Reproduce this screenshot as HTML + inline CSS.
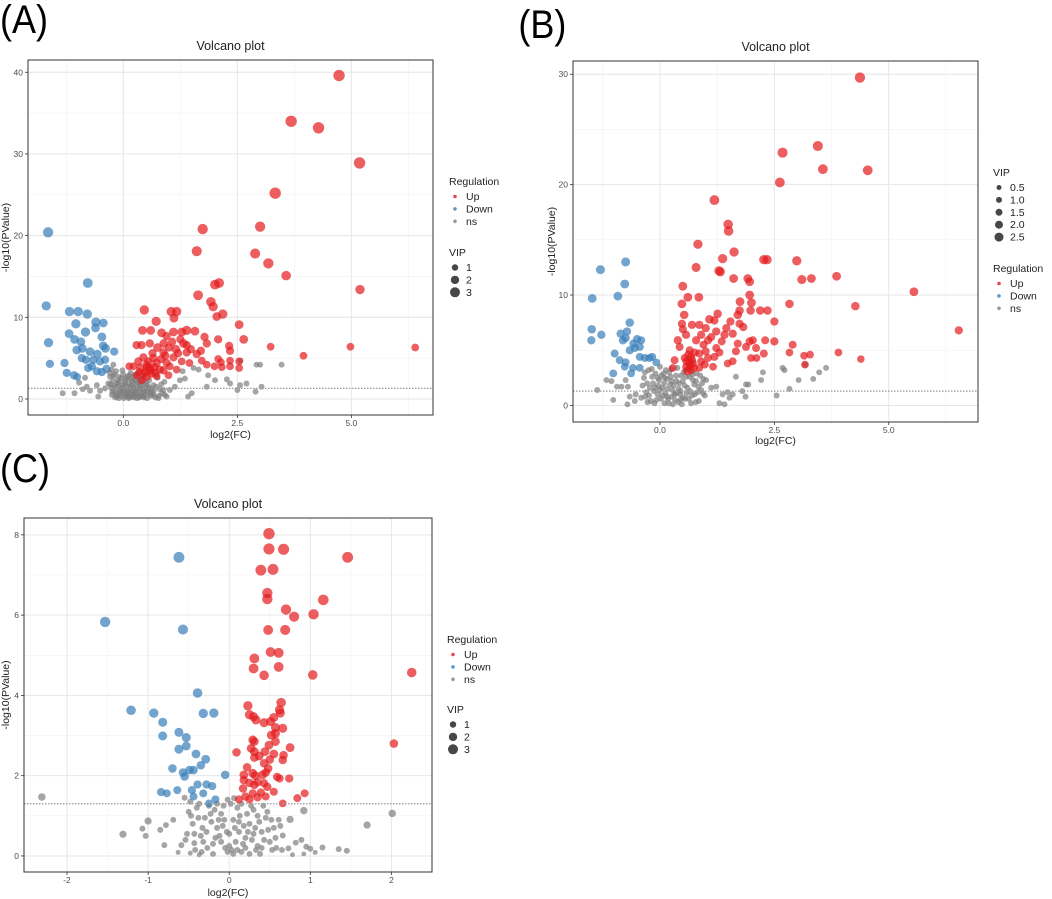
<!DOCTYPE html>
<html><head><meta charset="utf-8">
<style>
body{margin:0;background:#fff;}
svg{display:block;font-family:"Liberation Sans",Arial,sans-serif;}
</style></head>
<body>
<svg id="fig" width="1052" height="899" viewBox="0 0 1052 899" xmlns="http://www.w3.org/2000/svg">
<text x="0" y="33" font-size="40" transform="scale(0.9,1)">(A)</text>
<text x="576" y="38" font-size="40" transform="scale(0.9,1)">(B)</text>
<text x="0" y="482" font-size="40" transform="scale(0.9,1)">(C)</text>
</svg>
<script>
// ---------- Panel A data ----------
const upA=[[4.73,39.6,3],[3.68,34.0,3],[4.28,33.2,3],[5.18,28.9,3],[3.33,25.2,3],[3.0,21.1,2.6],[1.74,20.8,2.6],[1.61,18.1,2.5],[2.89,17.8,2.5],[3.18,16.6,2.6],[3.57,15.1,2.3],[2.01,14.0,2.4],[2.1,14.2,2.4],[5.19,13.4,2.2],[1.64,12.7,2.4],[1.92,11.9,2.3],[1.97,11.3,2.2],[0.46,10.9,2.2],[1.05,10.7,2.2],[1.17,10.7,2.2],[2.18,10.4,2.2],[2.05,10.1,2],[1.11,9.9,2],[0.72,9.5,2.2],[2.54,9.1,2],[0.42,8.4,2],[0.6,8.4,2],[0.84,8.1,2],[1.1,8.2,2],[1.28,8.2,2],[1.39,8.4,2.2],[1.57,8.3,2],[1.78,7.6,1.8],[1.83,6.8,1.8],[2.08,7.3,1.8],[2.64,7.3,2],[0.29,6.6,1.8],[0.4,6.6,1.8],[0.58,6.8,1.8],[0.89,6.8,2],[1.07,7.0,1.8],[1.32,6.8,2],[1.39,6.6,1.8],[0.75,6.3,2],[1.15,6.1,2],[2.32,6.5,1.8],[2.34,5.9,1.8],[3.23,6.4,1.6],[4.98,6.4,1.6],[6.4,6.3,1.6],[3.95,5.3,1.6],[0.88,5.7,1.8],[1.39,5.7,1.8],[1.61,5.5,1.8],[0.44,5.1,1.8],[0.66,5.0,1.8],[1.1,5.1,1.8],[1.28,4.6,1.6],[1.72,4.7,1.6],[2.08,4.9,1.6],[2.14,4.5,1.6],[2.34,4.7,1.6],[2.54,4.6,1.6],[0.33,4.6,1.8],[0.51,4.2,1.8],[0.73,4.4,1.8],[0.95,4.4,1.8],[0.13,4.0,1.6],[0.22,4.0,1.6],[0.37,3.8,1.8],[0.58,3.8,1.8],[0.8,3.6,1.8],[1.02,4.0,1.6],[1.17,3.6,1.6],[1.45,4.4,1.6],[1.83,4.2,1.6],[2.0,4.0,1.6],[2.16,3.9,1.6],[2.34,4.0,1.6],[2.54,3.8,1.6],[0.44,3.1,1.8],[0.62,3.1,1.8],[0.88,3.5,1.8],[0.99,2.9,1.6],[0.29,2.9,1.6],[0.51,2.7,1.8],[0.73,2.8,1.6],[0.4,2.3,1.6],[0.6,3.5,1.8],[0.55,4.6,1.8],[0.48,3.3,1.8],[0.68,3.9,1.8],[0.7,3.2,1.8],[0.52,3.9,1.8],[0.35,3.3,1.6],[0.83,4.9,1.8],[0.92,5.3,1.8],[1.2,5.6,1.8],[1.48,6.1,1.8],[1.0,6.3,1.8],[0.64,5.6,1.8],[1.25,7.3,1.8],[0.95,7.7,1.8],[1.7,5.9,1.8]];
const downA=[[-1.65,20.4,2.6],[-0.78,14.2,2.4],[-1.69,11.4,2.2],[-1.18,10.7,2.2],[-0.99,10.7,2.2],[-0.79,10.4,2.2],[-1.04,9.2,2.2],[-0.6,9.4,2.2],[-0.44,9.3,2],[-0.83,8.2,2.2],[-1.19,8.0,2],[-0.61,8.7,2],[-0.47,7.6,2],[-1.64,6.9,2.2],[-1.07,7.3,2],[-0.93,7.0,2],[-1.02,6.0,2],[-0.9,6.2,2],[-0.44,6.5,2],[-0.39,6.2,2],[-0.2,5.8,1.8],[-0.73,5.8,2],[-0.57,5.5,2],[-0.91,5.0,1.8],[-0.82,4.8,1.8],[-0.66,4.8,1.8],[-0.51,4.6,1.8],[-0.4,4.8,1.8],[-1.61,4.3,1.8],[-1.29,4.4,1.8],[-0.77,3.8,1.8],[-0.69,4.0,1.8],[-0.58,3.4,1.8],[-0.47,3.3,1.8],[-0.37,3.7,1.8],[-1.24,3.2,1.8],[-1.08,2.9,1.8],[-1.01,2.7,1.6]];
const nsA=[[-1.33,0.7],[-1.07,0.7],[-0.97,2.0],[-0.84,2.6],[-0.89,1.2],[-0.8,1.5],[-0.73,1.0],[-0.55,0.3],[-0.51,1.0],[-0.58,1.7],[-0.4,1.3],[-0.33,1.9],[-0.29,2.7],[-0.26,3.6],[-0.22,4.2],[0.66,0.5],[0.77,0.1],[0.91,0.5],[1.02,1.1],[1.13,1.5],[1.24,2.3],[1.3,3.4],[1.35,2.5],[1.42,0.3],[1.5,0.7],[1.54,3.8],[1.65,3.6],[1.83,1.5],[1.86,2.9],[2.01,2.3],[2.27,2.4],[2.34,1.9],[2.5,1.1],[2.56,1.7],[2.57,4.7],[2.7,1.9],[2.92,4.2],[3.0,4.2],[2.9,0.9],[3.03,1.5],[3.47,4.2],
[-0.25,0.5],[-0.2,1.0],[-0.15,1.5],[-0.1,2.0],[-0.05,2.5],[0,3.0],[0.05,0.3],[0.1,0.8],[0.15,1.3],[0.2,1.8],[0.25,2.3],[0.3,0.6],[0.35,1.1],[0.4,1.6],[0.45,0.2],[0.5,0.9],[0.55,1.4],[0.6,0.4],[-0.22,2.8],[-0.18,0.2],[-0.12,0.7],[-0.08,1.2],[-0.02,1.7],[0.03,2.2],[0.08,2.7],[0.12,0.1],[0.18,0.5],[0.22,1.0],[0.28,1.5],[0.32,2.0],[0.38,0.3],[0.42,0.8],[0.48,1.3],[0.52,1.8],[0.58,0.6],[-0.28,1.8],[-0.3,3.2],[-0.16,3.4],[0.02,0.9],[0.07,1.5],[0.14,2.5],[0.24,0.2],[0.34,2.6],[0.44,2.1],[0.62,1.1],[0.66,1.7],[0.7,0.2],[0.75,2.6],[0.8,1.2],[0.85,0.7],[0.9,2.1],[-0.24,0.9],[-0.06,0.4],[0.16,3.2],[0.26,2.9],[0.46,2.7],[-0.12,2.3],[0.0,1.2],[0.2,0.8],[0.36,1.8],[-0.1,0.1],[0.1,0.4],[0.3,0.1],[0.52,0.1],[-0.02,3.5],[0.12,1.9],
[-0.27,1.4],[-0.23,2.2],[-0.19,3.0],[-0.17,0.6],[-0.13,1.9],[-0.09,2.7],[-0.07,0.9],[-0.03,1.4],[0.01,0.1],[0.04,1.9],[0.06,2.5],[0.09,1.1],[0.11,0.6],[0.13,2.9],[0.17,1.6],[0.19,2.2],[0.21,0.3],[0.23,1.4],[0.27,0.9],[0.29,2.1],[0.31,1.2],[0.33,0.4],[0.37,1.4],[0.39,2.4],[0.41,0.6],[0.43,1.2],[0.47,0.5],[0.49,1.9],[0.53,1.0],[0.57,2.3],[0.59,1.3],[0.63,0.7],[0.67,1.0],[0.72,1.5],[0.78,0.4],[0.83,1.8],[0.88,1.1],[0.95,0.3],[-0.14,0.3],[0.15,0.2],[0.26,0.6],[0.35,0.2],[0.44,0.4],[-0.04,0.7],[0.06,0.6],[-0.2,1.6],[0.2,2.6],[0.3,3.1]];
const yTicksA=[0,10,20,30,40];
const xTicksA=[0,2.5,5];
const xLabelsA=["0.0","2.5","5.0"];

// ---------- Panel B data ----------
const upB=[[4.37,29.7,2.6],[3.45,23.5,2.5],[2.68,22.9,2.5],[3.56,21.4,2.4],[4.54,21.3,2.4],[2.62,20.2,2.4],[1.19,18.6,2.4],[1.49,16.4,2.3],[1.5,15.8,2.3],[0.83,14.6,2.2],[1.62,13.9,2.2],[1.37,13.3,2.2],[2.27,13.2,2.2],[2.34,13.2,2.2],[2.99,13.1,2.2],[0.79,12.5,2.1],[1.29,12.2,2.2],[1.32,12.1,2.1],[1.61,11.5,2],[1.92,11.5,2],[1.96,11.2,2],[3.1,11.4,2.1],[3.31,11.5,2],[3.86,11.7,2],[5.55,10.3,2],[0.5,10.8,2],[0.61,9.8,2],[0.85,9.8,2],[1.96,10.0,2],[0.48,9.2,2],[1.75,9.4,2],[2.0,9.3,2],[2.83,9.2,1.9],[4.27,9.0,1.9],[1.98,8.6,1.9],[2.19,8.6,1.9],[2.35,8.6,1.9],[0.53,8.2,1.9],[1.08,7.8,1.9],[1.26,8.3,1.9],[1.7,8.2,1.9],[1.74,8.6,1.9],[2.5,7.6,1.8],[0.48,7.4,1.8],[0.7,7.3,1.8],[0.86,7.3,1.8],[1.0,7.0,1.8],[1.19,7.7,1.8],[1.45,7.0,1.8],[1.54,7.6,1.8],[1.74,7.4,1.8],[1.82,7.1,1.8],[6.53,6.8,1.8],[0.39,5.9,1.8],[0.57,6.4,1.8],[0.79,5.9,1.8],[0.9,6.4,1.8],[1.05,5.9,1.8],[1.23,6.7,1.8],[1.41,6.4,1.8],[1.59,6.5,1.8],[1.7,5.6,1.7],[1.96,5.8,1.8],[2.03,5.9,1.7],[2.3,5.9,1.7],[2.5,5.8,1.8],[2.9,5.5,1.7],[0.43,5.3,1.7],[0.65,5.0,1.7],[0.86,4.7,1.7],[1.0,4.9,1.7],[1.23,5.2,1.7],[1.66,4.9,1.7],[1.88,5.3,1.7],[2.1,5.2,1.7],[2.27,4.7,1.7],[2.83,4.8,1.6],[3.15,4.5,1.6],[3.28,4.6,1.6],[3.9,4.8,1.6],[4.39,4.2,1.5],[0.32,4.1,1.7],[0.54,4.3,1.7],[0.68,4.4,1.7],[0.72,3.8,1.7],[0.9,4.0,1.7],[1.05,4.3,1.7],[1.19,4.4,1.7],[1.59,4.0,1.6],[1.99,4.3,1.6],[2.11,4.3,1.6],[0.28,3.4,1.6],[0.57,3.5,1.6],[0.68,3.2,1.6],[0.86,3.4,1.6],[1.16,3.5,1.6],[1.48,3.8,1.6],[3.17,3.7,1.6],[0.62,4.6,1.8],[0.66,3.6,1.8],[0.6,3.1,1.8],[0.7,4.1,1.8],[0.64,3.9,1.8],[0.74,3.4,1.8],[0.58,4.0,1.8],[0.76,4.8,1.7],[0.95,5.5,1.7],[1.12,6.2,1.7],[1.35,5.8,1.7],[0.5,6.9,1.7],[0.98,3.7,1.7],[1.3,4.8,1.7]];
const downB=[[-1.3,12.3,2.1],[-0.75,13.0,2.1],[-0.77,11.0,2],[-0.92,9.9,2],[-1.48,9.7,2],[-0.66,7.5,1.9],[-1.49,6.9,1.9],[-1.28,6.4,1.8],[-1.5,5.9,1.8],[-0.86,6.5,1.8],[-0.81,5.9,1.8],[-0.72,6.7,1.8],[-0.75,6.1,1.8],[-0.5,6.0,1.8],[-0.41,5.9,1.7],[-0.58,5.6,1.8],[-0.66,5.0,1.8],[-0.55,5.2,1.7],[-0.44,5.3,1.7],[-0.99,4.7,1.7],[-0.88,4.1,1.7],[-0.75,3.9,1.7],[-0.44,4.4,1.7],[-0.33,4.3,1.7],[-0.23,4.3,1.7],[-0.17,4.4,1.7],[-0.08,3.9,1.6],[-1.02,2.9,1.6],[-0.77,3.5,1.6],[-0.59,3.4,1.6],[-0.44,3.4,1.6],[-0.63,2.9,1.6]];
const nsB=[[-1.37,1.4],[-1.17,2.3],[-1.06,2.2],[-0.94,1.7],[-0.84,1.7],[-0.75,2.3],[-0.7,1.7],[-1.02,0.5],[-0.71,0.1],[-0.66,0.8],[-0.55,0.4],[-0.53,1.0],[-0.41,0.7],[1.01,2.3],[1.12,1.6],[1.23,1.7],[1.3,0.2],[1.37,1.0],[1.41,0.1],[1.48,1.2],[1.52,0.7],[1.59,1.0],[1.66,2.6],[1.8,1.3],[1.87,0.8],[1.88,1.9],[1.93,1.9],[2.21,2.3],[2.25,3.0],[2.55,0.9],[2.68,3.4],[2.72,3.2],[2.83,1.5],[3.03,2.3],[3.17,3.7],[3.35,2.4],[3.48,3.0],[3.63,3.4],
[-0.35,2.5],[-0.3,1.2],[-0.25,3.2],[-0.2,0.4],[-0.15,2.0],[-0.1,2.9],[-0.05,1.0],[0,3.5],[0.05,1.6],[0.1,0.2],[0.15,2.4],[0.2,3.0],[0.25,0.8],[0.3,1.8],[0.35,2.7],[0.4,0.3],[0.45,1.3],[0.5,2.2],[0.55,0.6],[0.6,1.6],[0.65,2.6],[0.7,0.9],[0.75,1.9],[0.8,2.9],[0.85,0.4],[0.9,1.4],[0.95,2.4],[-0.32,0.8],[-0.22,1.6],[-0.12,0.2],[-0.02,2.3],[0.08,2.9],[0.12,1.1],[0.22,1.9],[0.28,0.1],[0.32,1.0],[0.42,2.0],[0.52,3.0],[0.58,1.1],[0.68,0.2],[0.72,2.3],[0.82,1.2],[-0.18,3.3],[0.02,0.6],[0.18,0.6],[0.38,3.4],[0.48,0.1],[0.62,3.3],[-0.38,1.8],[0.0,1.4],[0.26,2.2],[0.44,1.0],[0.92,2.0],[0.98,0.9],
[-0.33,3.0],[-0.28,2.0],[-0.24,0.9],[-0.17,2.6],[-0.13,1.3],[-0.08,0.5],[-0.04,1.8],[0.03,2.7],[0.06,0.9],[0.09,2.0],[0.13,3.2],[0.16,1.5],[0.19,0.2],[0.23,2.6],[0.27,1.4],[0.33,0.5],[0.36,2.2],[0.41,1.5],[0.46,2.7],[0.5,0.7],[0.54,1.8],[0.57,2.6],[0.63,0.6],[0.66,1.3],[0.71,2.8],[0.76,1.0],[0.79,2.2],[0.84,1.7],[0.88,2.7],[0.94,1.1],[-0.27,0.3],[-0.1,1.6],[0.1,2.5],[0.35,1.1],[0.55,3.2],[0.78,0.3],[-0.05,2.5],[0.25,3.3],[0.45,0.5],[0.15,0.8]];
const yTicksB=[0,10,20,30];
const xTicksB=[0,2.5,5];
const xLabelsB=["0.0","2.5","5.0"];

// ---------- Panel C data ----------
const upC=[[0.49,8.03,3],[0.49,7.65,2.9],[0.67,7.64,2.9],[1.46,7.44,2.8],[0.39,7.12,2.8],[0.54,7.14,2.8],[0.47,6.55,2.6],[0.47,6.4,2.6],[1.16,6.38,2.7],[0.7,6.14,2.6],[0.8,5.96,2.5],[1.04,6.02,2.6],[0.48,5.63,2.4],[0.69,5.63,2.5],[0.51,5.08,2.4],[0.61,5.06,2.4],[0.31,4.92,2.4],[0.3,4.67,2.4],[0.61,4.71,2.4],[0.43,4.5,2.3],[1.03,4.51,2.3],[2.25,4.57,2.3],[0.23,3.74,2.2],[0.64,3.82,2.3],[0.62,3.64,2.2],[0.25,3.52,2.2],[0.3,3.47,2.1],[0.33,3.39,2.1],[0.43,3.32,2.1],[0.51,3.35,2.1],[0.55,3.45,2.1],[0.63,3.56,2.1],[0.57,3.2,2.1],[0.66,3.18,2.1],[0.52,3.01,2.1],[0.57,3.05,2.1],[0.29,2.89,2],[0.31,2.85,2],[0.49,2.76,2],[0.57,2.85,2],[0.75,2.7,2],[0.27,2.68,2],[0.31,2.6,2],[0.09,2.58,1.9],[0.37,2.49,2],[0.44,2.6,2],[0.55,2.54,2],[0.67,2.51,1.9],[0.66,2.39,1.9],[0.5,2.4,1.9],[0.31,2.45,1.9],[0.43,2.31,1.9],[0.22,2.21,1.9],[0.48,2.18,1.9],[0.59,1.97,1.8],[0.62,1.93,1.8],[0.74,1.93,1.8],[2.03,2.8,1.9],[0.18,2.02,2],[0.29,2.06,2],[0.32,2.0,2],[0.41,2.02,2],[0.45,2.08,1.9],[0.18,1.89,1.9],[0.25,1.82,1.9],[0.35,1.84,1.9],[0.17,1.68,1.9],[0.31,1.77,1.9],[0.43,1.81,1.8],[0.47,1.72,1.8],[0.55,1.6,1.7],[0.29,1.56,1.8],[0.39,1.58,1.8],[0.2,1.48,1.8],[0.35,1.46,1.8],[0.45,1.48,1.7],[0.25,1.41,1.8],[0.12,1.41,1.7],[0.66,1.31,1.6],[0.84,1.44,1.7],[0.93,1.56,1.7]];
const downC=[[-0.62,7.44,2.8],[-1.53,5.83,2.6],[-0.57,5.64,2.5],[-0.39,4.06,2.3],[-1.21,3.63,2.3],[-0.93,3.56,2.2],[-0.32,3.55,2.2],[-0.19,3.56,2.2],[-0.82,3.33,2.1],[-0.62,3.08,2.1],[-0.82,2.99,2.1],[-0.53,2.95,2.1],[-0.53,2.74,2],[-0.62,2.66,2.1],[-0.41,2.54,2],[-0.29,2.41,2],[-0.35,2.26,1.9],[-0.7,2.18,1.9],[-0.57,2.08,1.9],[-0.49,2.14,1.9],[-0.44,2.14,1.9],[-0.55,1.98,1.9],[-0.05,2.02,1.9],[-0.39,1.78,1.8],[-0.28,1.78,1.8],[-0.21,1.74,1.8],[-0.46,1.64,1.8],[-0.84,1.59,1.8],[-0.77,1.56,1.7],[-0.64,1.64,1.7],[-0.44,1.48,1.7],[-0.32,1.56,1.7],[-0.17,1.41,1.7],[-0.25,1.31,1.6]];
const nsC=[[-2.31,1.47,1.5],[-1.31,0.54,1.4],[-1.03,0.5],[-1.07,0.68],[-1.0,0.87,1.4],[-0.8,0.27],[-0.85,0.65],[-0.78,0.77],[-0.69,0.9],[-0.63,0.09,0.5],[-0.59,0.27],[-0.54,0.4],[-0.43,0.32],[-0.48,0.07,0.5],[-0.37,0.03,0.5],[0.92,1.13,1.5],[0.75,0.91,1.4],[2.01,1.06,1.5],[1.7,0.77,1.4],[0.73,0.19],[0.82,0.33],[0.89,0.4],[0.95,0.23],[1.0,0.18],[1.15,0.21],[1.35,0.17],[1.45,0.13],[1.06,0.09,0.5],[0.92,0.05,0.5],[0.78,0.03,0.5],[0.66,0.51],[0.61,0.9],
[-0.55,1.45],[-0.5,1.1],[-0.45,0.8],[-0.4,1.2],[-0.35,0.5],[-0.3,0.95],[-0.25,1.25],[-0.2,0.3],[-0.15,0.7],[-0.1,1.05],[-0.05,0.2],[0,0.55],[0.05,0.9],[0.1,1.2],[0.15,0.1],[0.2,0.45],[0.25,0.8],[0.3,1.15],[0.35,0.25],[0.4,0.6],[0.45,0.95],[0.5,0.35],[0.55,0.7],[-0.52,0.55],[-0.42,0.15],[-0.32,0.35],[-0.22,0.85],[-0.12,0.5],[-0.02,0.1],[0.08,0.35],[0.18,0.75],[0.28,0.4],[0.38,0.05],[0.48,0.65],[0.58,0.2],[-0.48,1.35],[-0.38,0.95],[-0.28,0.6],[-0.18,1.15],[-0.08,0.75],[0.02,1.3],[0.12,0.6],[0.22,1.05],[0.32,0.7],[0.42,1.25],[0.52,0.9],[0.0,0.25],[0.1,0.15],[0.2,0.2],[-0.1,0.35],[0.06,1.44],[-0.02,1.4],[0.65,0.15],
[-0.47,1.0],[-0.43,0.55],[-0.37,1.3],[-0.33,0.7],[-0.27,0.2],[-0.23,1.05],[-0.17,0.45],[-0.13,0.9],[-0.07,1.25],[-0.03,0.6],[0.03,0.15],[0.07,0.7],[0.13,1.0],[0.17,0.3],[0.23,0.6],[0.27,1.25],[0.33,0.15],[0.37,0.85],[0.43,0.4],[0.47,1.1],[0.53,0.15],[0.57,0.45],[0.63,0.75],[-0.2,0.05],[0.05,0.05],[0.25,0.05],[-0.15,1.3],[0.15,1.3],[0.35,1.0],[-0.34,0.1],[0.12,0.85],[-0.06,0.9],[0.4,0.2],[0.3,0.55]];
const yTicksC=[0,2,4,6,8];
const xTicksC=[-2,-1,0,1,2];
const xLabelsC=["-2","-1","0","1","2"];

const svg=document.getElementById('fig');
const NS='http://www.w3.org/2000/svg';
function mk(tag,attrs,parent){const e=document.createElementNS(NS,tag);for(const k in attrs)e.setAttribute(k,attrs[k]);(parent||svg).appendChild(e);return e;}
const COL={up:'#E41A1C',down:'#377EB8',ns:'#7f7f7f'};
function rad(v){return 1.8+1.3*v;}

function panel(cfg){
  const g=mk('g',{});
  
  
  const X=v=>cfg.x0+(v-cfg.xmin)/(cfg.xmax-cfg.xmin)*(cfg.x1-cfg.x0);
  const Y=v=>cfg.y1-(v-cfg.ymin)/(cfg.ymax-cfg.ymin)*(cfg.y1-cfg.y0);
  mk('rect',{x:cfg.x0,y:cfg.y0,width:cfg.x1-cfg.x0,height:cfg.y1-cfg.y0,fill:'#fff'},g);
  cfg.xminor.forEach(v=>{const l=mk('line',{x1:X(v),x2:X(v),y1:cfg.y0,y2:cfg.y1,stroke:'#f2f2f2','stroke-width':0.6},g);});
  cfg.yminor.forEach(v=>{const l=mk('line',{x1:cfg.x0,x2:cfg.x1,y1:Y(v),y2:Y(v),stroke:'#f2f2f2','stroke-width':0.6},g);});
  cfg.xt.forEach((v,i)=>{
    const l=mk('line',{x1:X(v),x2:X(v),y1:cfg.y0,y2:cfg.y1,stroke:'#e6e6e6','stroke-width':1},g);
    
    mk('line',{x1:X(v),x2:X(v),y1:cfg.y1,y2:cfg.y1+3,stroke:'#333','stroke-width':0.8},g);
    const t=mk('text',{x:X(v),y:cfg.y1+11,'font-size':8.5,'text-anchor':'middle',fill:'#4d4d4d'},g);
    t.textContent=cfg.xl[i];
    
  });
  cfg.yt.forEach(v=>{
    const l=mk('line',{x1:cfg.x0,x2:cfg.x1,y1:Y(v),y2:Y(v),stroke:'#e6e6e6','stroke-width':1},g);
    
    mk('line',{x1:cfg.x0-3,x2:cfg.x0,y1:Y(v),y2:Y(v),stroke:'#333','stroke-width':0.8},g);
    const t=mk('text',{x:cfg.x0-5,y:Y(v)+3,'font-size':8.5,'text-anchor':'end',fill:'#4d4d4d'},g);
    t.textContent=String(v);
    
  });
  const series=[['ns',cfg.ns,0.9],['up',cfg.up,2],['down',cfg.down,2]];
  series.forEach(([k,arr,def])=>{
    arr.forEach(p=>{
      const c=mk('circle',{cx:X(p[0]),cy:Y(p[1]),r:rad(p.length>2?p[2]:def),fill:COL[k],'fill-opacity':0.7},g);
      
      
    });
  });
  const th=mk('line',{x1:cfg.x0,x2:cfg.x1,y1:Y(1.3),y2:Y(1.3),stroke:'#999','stroke-width':1.2,'stroke-dasharray':'1.5,1.5'},g);
  
  mk('rect',{x:cfg.x0,y:cfg.y0,width:cfg.x1-cfg.x0,height:cfg.y1-cfg.y0,fill:'none',stroke:'#333','stroke-width':1},g);
  const ti=mk('text',{x:(cfg.x0+cfg.x1)/2,y:cfg.y0-10,'font-size':12.5,'text-anchor':'middle',fill:'#222'},g);
  ti.textContent='Volcano plot';
  
  const xl=mk('text',{x:(cfg.x0+cfg.x1)/2,y:cfg.xlabY,'font-size':10.5,'text-anchor':'middle',fill:'#222'},g);
  xl.textContent='log2(FC)';
  
  const yc=(cfg.y0+cfg.y1)/2;
  const yl=mk('text',{x:cfg.ylabX,y:yc,'font-size':10.5,'text-anchor':'middle',fill:'#222',transform:`rotate(-90 ${cfg.ylabX} ${yc})`},g);
  yl.textContent='-log10(PValue)';
  
  cfg.legends.forEach(L=>{
    const h=mk('text',{x:L.x,y:L.y,'font-size':10.5,fill:'#222'},g);
    h.textContent=L.title;
    
    L.items.forEach((it,i)=>{
      const yy=L.y+15+i*12.4;
      const c=mk('circle',{cx:L.x+6,cy:yy-3.5,r:it.r,fill:it.c,'fill-opacity':it.o},g);
      
      const t=mk('text',{x:L.x+17,y:yy,'font-size':10.5,fill:'#222'},g);
      t.textContent=it.t;
      
    });
  });
}
const reg=[{t:'Up',c:COL.up,r:1.8,o:0.8},{t:'Down',c:COL.down,r:1.8,o:0.8},{t:'ns',c:COL.ns,r:1.8,o:0.8}];
const vip3=[{t:'1',c:'#333',r:3.2,o:0.9},{t:'2',c:'#333',r:4.2,o:0.9},{t:'3',c:'#333',r:5,o:0.9}];

panel({name:'panel-a',x0:28,x1:433,y0:60,y1:415,xmin:-2.09,xmax:6.79,ymin:-1.96,ymax:41.5,
  xt:xTicksA,xl:xLabelsA,yt:yTicksA,xminor:[-1.25,1.25,3.75,6.25],yminor:[5,15,25,35],
  up:upA,down:downA,ns:nsA,xlabY:438,ylabX:9,
  legends:[{title:'Regulation',x:449,y:185,items:reg},{title:'VIP',x:449,y:256,items:vip3}]});

panel({name:'panel-b',x0:573,x1:978,y0:61,y1:422,xmin:-1.9,xmax:6.95,ymin:-1.5,ymax:31.2,
  xt:xTicksB,xl:xLabelsB,yt:yTicksB,xminor:[-1.25,1.25,3.75,6.25],yminor:[5,15,25],
  up:upB,down:downB,ns:nsB,xlabY:444,ylabX:555,
  legends:[{title:'VIP',x:993,y:176,items:[{t:'0.5',c:'#333',r:2.5,o:0.9},{t:'1.0',c:'#333',r:3,o:0.9},{t:'1.5',c:'#333',r:3.5,o:0.9},{t:'2.0',c:'#333',r:4,o:0.9},{t:'2.5',c:'#333',r:4.5,o:0.9}]},
           {title:'Regulation',x:993,y:272,items:reg}]});

panel({name:'panel-c',x0:24,x1:432,y0:518,y1:872,xmin:-2.53,xmax:2.5,ymin:-0.4,ymax:8.42,
  xt:xTicksC,xl:xLabelsC,yt:yTicksC,xminor:[-1.5,-0.5,0.5,1.5],yminor:[1,3,5,7],
  up:upC,down:downC,ns:nsC,xlabY:896,ylabX:9,
  legends:[{title:'Regulation',x:447,y:643,items:reg},{title:'VIP',x:447,y:713,items:vip3}]});
</script>
</body></html>
